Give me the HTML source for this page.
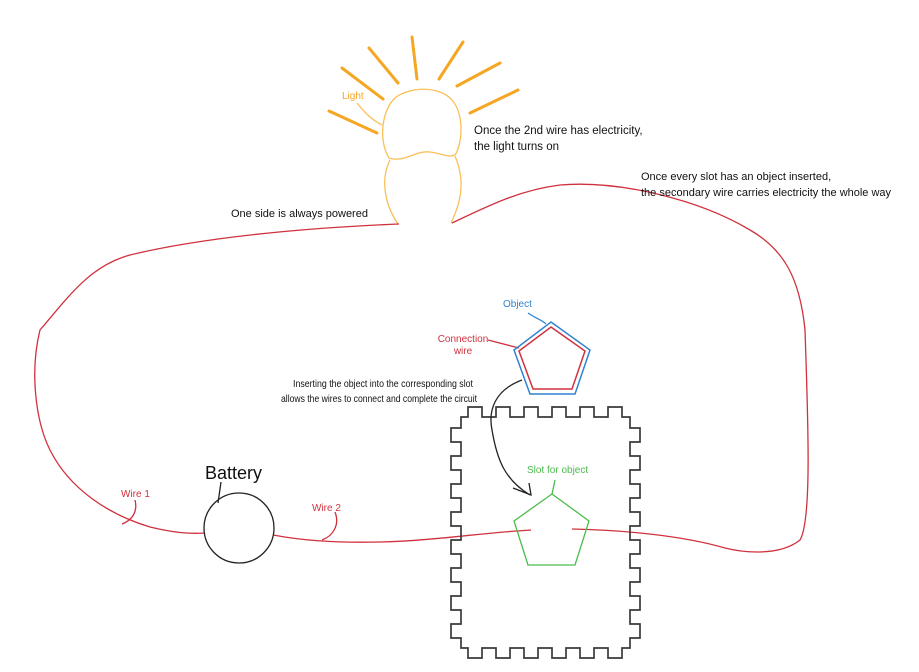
<!DOCTYPE html>
<html><head><meta charset="utf-8"><style>
html,body{margin:0;padding:0;background:#fff;width:919px;height:672px;overflow:hidden}
svg{display:block}
text{font-family:"Liberation Sans",sans-serif}
</style></head><body>
<svg id="s" width="919" height="672" viewBox="0 0 919 672" xmlns="http://www.w3.org/2000/svg">
<g stroke="#f5a623" stroke-width="3" stroke-linecap="round">
<line x1="342" y1="68" x2="383" y2="99"/>
<line x1="369" y1="48" x2="398" y2="83"/>
<line x1="412" y1="37" x2="417" y2="79"/>
<line x1="463" y1="42" x2="439" y2="79"/>
<line x1="500" y1="63" x2="457" y2="86"/>
<line x1="518" y1="90" x2="470" y2="113"/>
<line x1="329" y1="111" x2="377" y2="133"/>
</g>
<g fill="none" stroke="#fbbf57" stroke-width="1.3">
<path d="M389,158 C378,140 382,110 395,98 C410,86 440,86 452,100 C465,115 462,145 455,155"/>
<path d="M389,158 C405,163 415,150 430,152 C440,153 448,158 455,155"/>
<path d="M390,160 C380,180 385,205 398,224"/>
<path d="M455,156 C465,180 462,200 451,223"/>
<path d="M357,103 C365,113 372,120 382,125"/>
</g>
<text x="342" y="99" font-size="10" fill="#f5a623">Light</text>
<g fill="none" stroke="#d0313d" stroke-width="1.3">
<path d="M399,224 C300,228 200,238 130,255 C90,266 70,295 40,330 C30,370 35,420 50,450 C70,490 110,515 150,527 C175,533 190,534 205,533"/>
<path d="M273,535 C300,540 330,543 380,542 C430,541 480,533 531,530"/>
<path d="M572,529 C620,530 680,535 725,548 C745,553 780,556 800,540 C812,520 808,420 805,330 C800,280 785,250 750,230 C700,200 620,180 560,185 C520,190 490,205 452,223"/>
<path d="M135,500 C138,512 132,520 122,524"/>
<path d="M335,512 C340,525 333,536 322,540"/>
<path d="M488,340 L519,348"/>
</g>
<text x="121" y="497" font-size="10" fill="#d0313d">Wire 1</text>
<text x="312" y="511" font-size="10" fill="#d0313d">Wire 2</text>
<text x="463" y="342" font-size="10" fill="#d0313d" text-anchor="middle">Connection</text>
<text x="463" y="354" font-size="10" fill="#d0313d" text-anchor="middle">wire</text>
<circle cx="239" cy="528" r="35" fill="none" stroke="#222" stroke-width="1.3"/>
<path d="M218,503 L221,482" stroke="#222" stroke-width="1.3"/>
<text x="205" y="479" font-size="18" fill="#111">Battery</text>
<polygon points="551,322 590,350 575,394 530,394 514,350" fill="none" stroke="#2f83d0" stroke-width="1.5"/>
<polygon points="551,327 585,351 572,389 533,389 519,351" fill="none" stroke="#d0313d" stroke-width="1.5"/>
<path d="M528,313 C535,318 542,320 546,324" fill="none" stroke="#2f83d0" stroke-width="1.2"/>
<text x="503" y="307" font-size="10" fill="#2f83d0">Object</text>
<polygon points="552,494 589,521 575,565 528,565 514,521" fill="none" stroke="#4cbb4c" stroke-width="1.3"/>
<path d="M552,494 L555,480" stroke="#4cbb4c" stroke-width="1.3"/>
<text x="527" y="473" font-size="10" fill="#4cbb4c">Slot for object</text>
<path id="board" fill="none" stroke="#3a3a3a" stroke-width="1.7"/>
<path d="M522,380 C495,390 488,410 492,430 C497,460 505,480 530,495" fill="none" stroke="#222" stroke-width="1.3"/>
<path d="M529,483 L531,495 L513,488" fill="none" stroke="#222" stroke-width="1.3"/>
<text x="231" y="217" font-size="11" fill="#111">One side is always powered</text>
<text x="474" y="134" font-size="11.5" fill="#111">Once the 2nd wire has electricity,</text>
<text x="474" y="150" font-size="11.5" fill="#111">the light turns on</text>
<text x="641" y="180" font-size="11" fill="#111">Once every slot has an object inserted,</text>
<text x="641" y="196" font-size="11" fill="#111">the secondary wire carries electricity the whole way</text>
<text x="293" y="387" font-size="10.5" fill="#111" textLength="180" lengthAdjust="spacingAndGlyphs">Inserting the object into the corresponding slot</text>
<text x="281" y="402" font-size="10.5" fill="#111" textLength="196" lengthAdjust="spacingAndGlyphs">allows the wires to connect and complete the circuit</text>
</svg>
<script>
var L=461,R=630,T=417,B=648,o=10,w=14;
var xs=[468,496,524,552,580,608],ys=[428,456,484,512,540,568,596,624];
var d="M"+L+","+T;
xs.forEach(function(x){d+=" L"+x+","+T+" L"+x+","+(T-o)+" L"+(x+w)+","+(T-o)+" L"+(x+w)+","+T;});
d+=" L"+R+","+T;
ys.forEach(function(y){d+=" L"+R+","+y+" L"+(R+o)+","+y+" L"+(R+o)+","+(y+w)+" L"+R+","+(y+w);});
d+=" L"+R+","+B;
xs.slice().reverse().forEach(function(x){d+=" L"+(x+w)+","+B+" L"+(x+w)+","+(B+o)+" L"+x+","+(B+o)+" L"+x+","+B;});
d+=" L"+L+","+B;
ys.slice().reverse().forEach(function(y){d+=" L"+L+","+(y+w)+" L"+(L-o)+","+(y+w)+" L"+(L-o)+","+y+" L"+L+","+y;});
d+=" Z";
document.getElementById("board").setAttribute("d",d);
</script>
</body></html>
